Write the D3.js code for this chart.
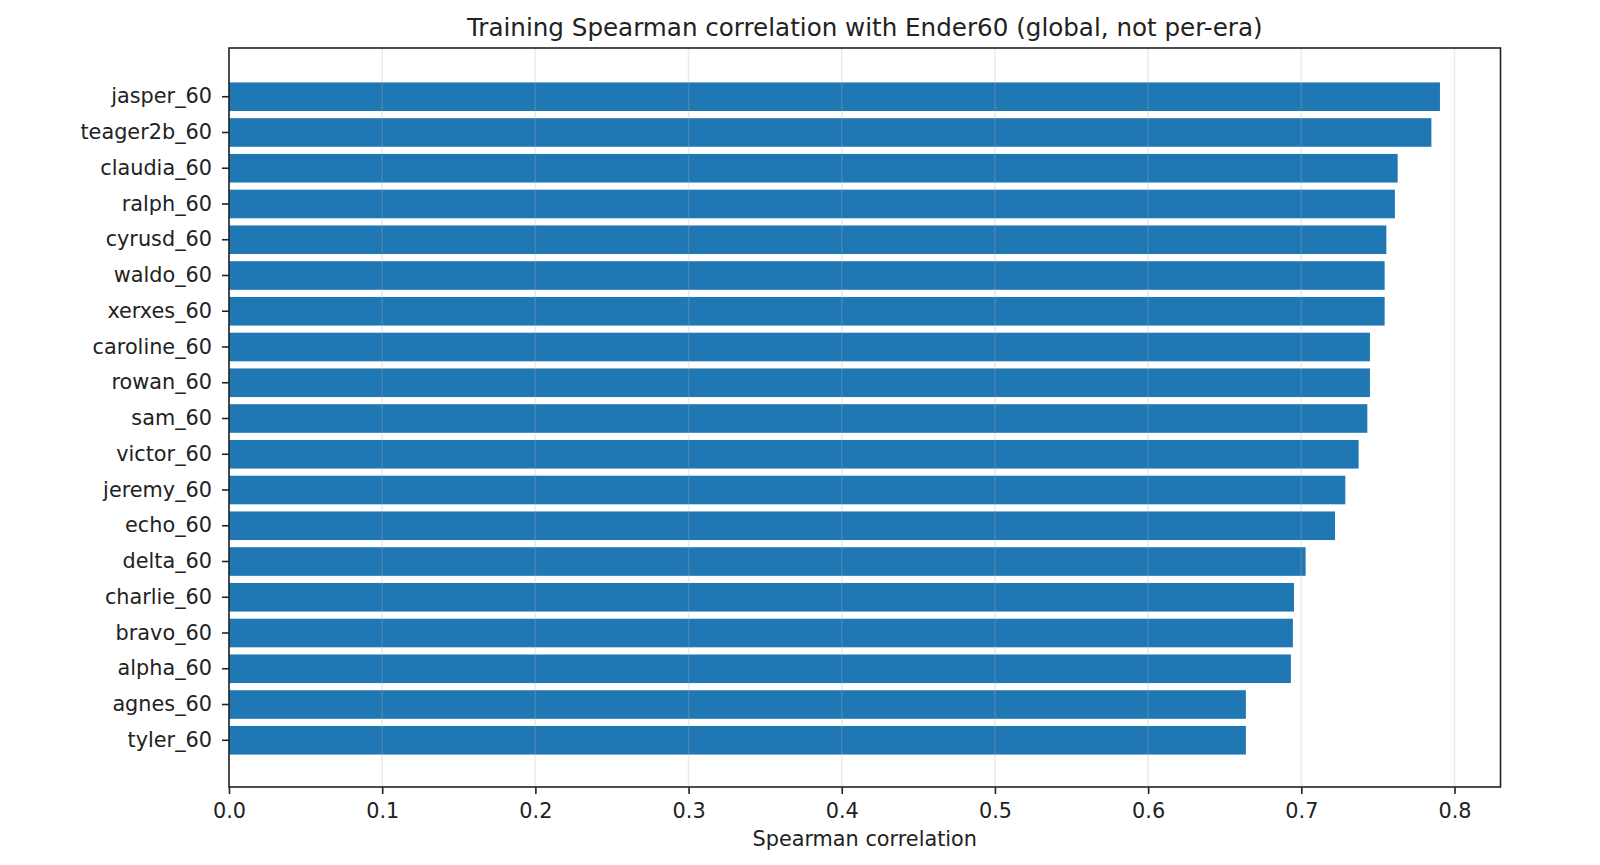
<!DOCTYPE html>
<html>
<head>
<meta charset="utf-8">
<script src="https://cdn.jsdelivr.net/npm/d3@7"></script>
<style>
  body { margin: 0; background: #fff; }
  text { font-family: "DejaVu Sans", sans-serif; fill: #222; }
</style>
</head>
<body>
<svg id="chart" width="1600" height="865"></svg>
<script>
// data, top to bottom as shown
const models = ["jasper_60", "teager2b_60", "claudia_60", "ralph_60", "cyrusd_60", "waldo_60",
    "xerxes_60", "caroline_60", "rowan_60", "sam_60", "victor_60", "jeremy_60", "echo_60",
    "delta_60", "charlie_60", "bravo_60", "alpha_60", "agnes_60", "tyler_60"];
const spearman = [0.7905, 0.7849, 0.7629, 0.7611, 0.7555, 0.7544, 0.7544, 0.7448, 0.7448,
    0.7431, 0.7374, 0.7287, 0.7220, 0.7028, 0.6952, 0.6945, 0.6932, 0.6638, 0.6638];
const xTicks = [0.0, 0.1, 0.2, 0.3, 0.4, 0.5, 0.6, 0.7, 0.8];

const plotLeft = 229, plotRight = 1500.5, plotTop = 48, plotBottom = 787;

const svg = d3.select("#chart");

const x = d3.scaleLinear().domain([0, d3.max(spearman) * 1.05]).range([plotLeft, plotRight]);
const y = d3.scaleBand().domain(models).range([plotTop, plotBottom])
    .paddingInner(0.2).paddingOuter(0.935);

const rows = models.map((m, i) => ({name: m, value: spearman[i]}));

// bars
svg.append("g")
    .selectAll("rect")
    .data(rows)
    .join("rect")
    .attr("x", x(0))
    .attr("y", d => y(d.name) + 1)
    .attr("width", d => x(d.value) - x(0))
    .attr("height", y.bandwidth())
    .style("fill", "#1f77b4");

// faint grid on top
svg.append("g")
    .selectAll("line")
    .data(xTicks)
    .join("line")
    .attr("x1", d => x(d)).attr("x2", d => x(d))
    .attr("y1", plotTop).attr("y2", plotBottom)
    .style("stroke", "#b0b0b0").style("stroke-opacity", 0.25).style("stroke-width", 1.6);

// axes
const xAxis = svg.append("g")
    .attr("transform", "translate(0," + plotBottom + ")")
    .call(d3.axisBottom(x).tickValues(xTicks).tickFormat(d3.format(".1f"))
        .tickSize(7).tickPadding(9).tickSizeOuter(0));

const yAxis = svg.append("g")
    .attr("transform", "translate(" + plotLeft + ",1)")
    .call(d3.axisLeft(y).tickSize(7).tickPadding(10).tickSizeOuter(0));

[xAxis, yAxis].forEach(a => {
    a.select(".domain").remove();
    a.selectAll(".tick line").style("stroke", "#222").style("stroke-width", 1.6);
    a.selectAll(".tick text").style("font-size", "20.8px").style("fill", "#222")
        .style("font-family", "'DejaVu Sans', sans-serif");
});

// frame
svg.append("rect")
    .attr("x", plotLeft).attr("y", plotTop)
    .attr("width", plotRight - plotLeft).attr("height", plotBottom - plotTop)
    .style("fill", "none").style("stroke", "#222").style("stroke-width", 1.6);

svg.append("text").text("Training Spearman correlation with Ender60 (global, not per-era)")
    .attr("x", (plotLeft + plotRight) / 2).attr("y", 36).attr("text-anchor", "middle")
    .style("font-size", "24.6px");
svg.append("text").text("Spearman correlation")
    .attr("x", (plotLeft + plotRight) / 2).attr("y", 846).attr("text-anchor", "middle")
    .style("font-size", "20.8px");
</script>
</body>
</html>
